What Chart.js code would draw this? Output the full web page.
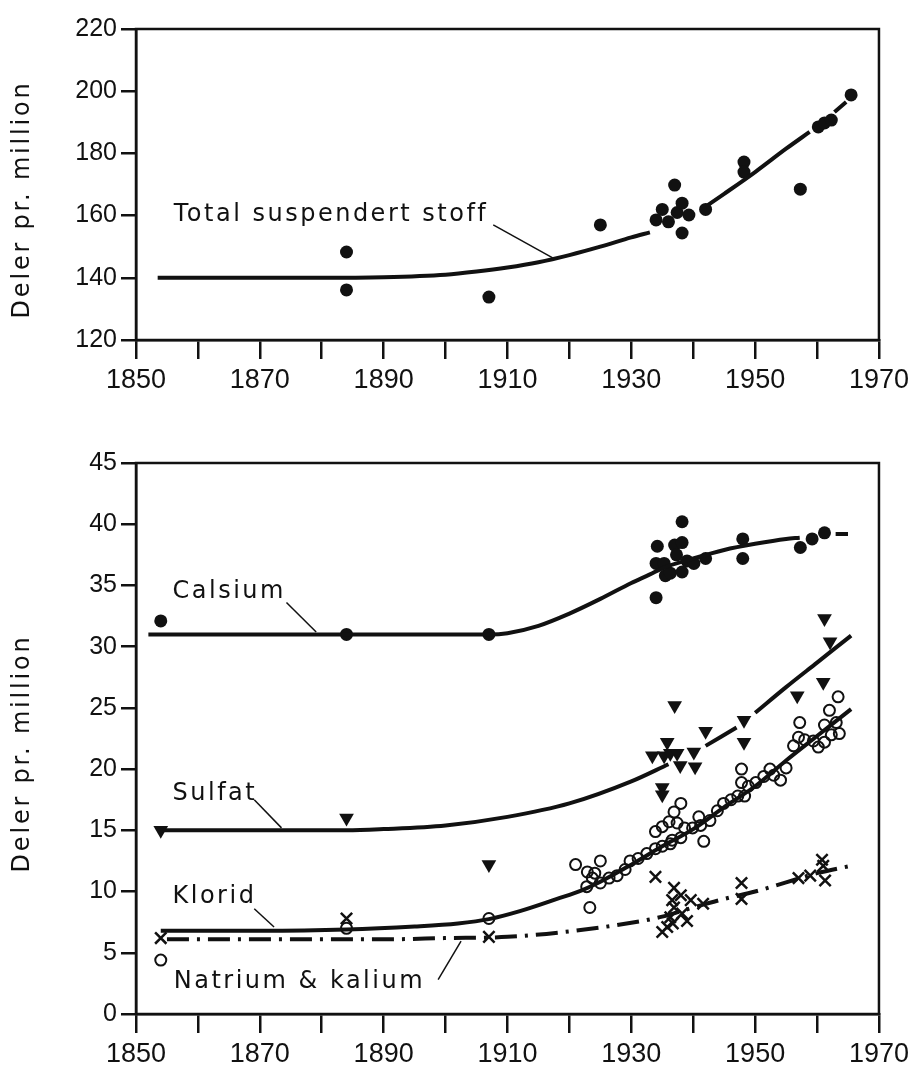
<!DOCTYPE html>
<html>
<head>
<meta charset="utf-8">
<script src="https://cdn.jsdelivr.net/npm/chart.js@4.4.1/dist/chart.umd.min.js"></script>
<style>
  html, body { margin: 0; padding: 0; background: #fff; }
  #wrap { position: relative; width: 914px; height: 1067px; }
  canvas { position: absolute; left: 0; }
  #topChart { top: 0; }
  #bottomChart { top: 400px; }
</style>
</head>
<body>
<div id="wrap">
  <canvas id="topChart" width="914" height="400"></canvas>
  <canvas id="bottomChart" width="914" height="667"></canvas>
</div>
<script>
// ---- data ----
const xTickLabels = [1850, 1870, 1890, 1910, 1930, 1950, 1970];
const topYTicks = [120, 140, 160, 180, 200, 220];
const bottomYTicks = [0, 5, 10, 15, 20, 25, 30, 35, 40, 45];

// Total suspendert stoff
const tssYears  = [1884, 1884, 1907, 1925, 1934, 1935, 1936, 1937, 1937.4, 1938.2, 1938.2, 1939.3, 1942, 1948.2, 1948.2, 1957.3, 1960.2, 1961.2, 1962.3, 1965.5];
const tssValues = [148.3, 136.1, 133.8, 157, 158.6, 162, 158, 169.8, 161, 164, 154.4, 160.2, 162, 177.2, 174, 168.5, 188.5, 189.8, 190.7, 198.8];
const tssCurveYears  = [1853.5, 1860, 1870, 1880, 1890, 1900, 1905, 1910, 1915, 1920, 1925, 1930, 1933, 1937, 1942, 1945, 1950, 1955, 1958.8, 1960.5, 1962.8, 1964.7];
const tssCurveValues = [140, 140, 140, 140, 140.2, 141, 142, 143.3, 145, 147.3, 150, 153, 154.6, null, 162.9, 167, 174, 181.5, 186.9, null, 193.3, 196.5];

// Calsium
const calsiumYears  = [1854, 1884, 1907, 1934, 1934.2, 1934, 1935.3, 1935.5, 1936.3, 1937, 1937.3, 1938.2, 1938.2, 1938.2, 1939, 1940.1, 1942, 1948, 1948, 1957.3, 1959.2, 1961.2];
const calsiumValues = [32.1, 31, 31, 34, 38.2, 36.8, 36.8, 35.8, 36, 38.3, 37.5, 38.5, 40.2, 36.1, 37, 36.8, 37.2, 38.8, 37.2, 38.1, 38.8, 39.3];
const calsiumCurveYears  = [1852, 1870, 1884, 1900, 1907, 1910, 1915, 1920, 1925, 1930, 1933, 1935, 1940, 1945, 1950, 1955, 1957.2, 1960, 1963, 1965];
const calsiumCurveValues = [31, 31, 31, 31, 31, 31.1, 31.7, 32.7, 33.9, 35.2, 35.9, 36.4, 37.2, 37.9, 38.4, 38.8, 38.9, null, 39.2, 39.2];

// Sulfat
const sulfatYears  = [1854, 1884, 1907, 1933.4, 1935, 1935, 1935.3, 1935.8, 1936.3, 1937, 1937.4, 1937.9, 1940.1, 1940.3, 1942, 1948.2, 1948.2, 1956.8, 1961, 1961.2, 1962.1];
const sulfatValues = [15, 16, 12.2, 21.1, 18.5, 17.9, 21.1, 22.2, 21.3, 25.2, 21.3, 20.3, 21.4, 20.2, 23.1, 24, 22.2, 26, 27.1, 32.3, 30.4];
const sulfatCurveYears  = [1854, 1870, 1884, 1890, 1900, 1910, 1920, 1930, 1936, 1939, 1942, 1947, 1948.5, 1950, 1955, 1960, 1965.5];
const sulfatCurveValues = [15, 15, 15, 15.1, 15.4, 16.1, 17.2, 19, 20.4, null, 21.9, 23.4, null, 24.6, 26.7, 28.7, 30.9];

// Klorid
const kloridYears  = [1854, 1884, 1907, 1921, 1922.9, 1925, 1924.1, 1923.7, 1922.8, 1923.3, 1925, 1926.4, 1927.7, 1929, 1929.8, 1931.1, 1932.5, 1933.9, 1935, 1936.3,
                      1933.9, 1935, 1936.1, 1936.9, 1938, 1937.4, 1938, 1936.6, 1938.6, 1939.9, 1940.9, 1941.2, 1941.7, 1942.7, 1943.9, 1944.9, 1946.1, 1947.2, 1947.8, 1947.8,
                      1948.3, 1948.9, 1950.1, 1951.4, 1952.4, 1953, 1954.1, 1955, 1956.2, 1957, 1957.2, 1958, 1959.4, 1960.2, 1961.2, 1961.2, 1962, 1962.3, 1963.1, 1963.4, 1963.6];
const kloridValues = [4.4, 7, 7.8, 12.2, 11.6, 12.5, 11.5, 11.1, 10.4, 8.7, 10.7, 11.1, 11.3, 11.8, 12.5, 12.7, 13.1, 13.5, 13.7, 13.9,
                      14.9, 15.3, 15.7, 16.5, 17.2, 15.6, 14.4, 14.2, 15.2, 15.2, 16.1, 15.4, 14.1, 15.8, 16.6, 17.2, 17.5, 17.8, 18.9, 20,
                      17.8, 18.6, 18.9, 19.4, 20, 19.5, 19.1, 20.1, 21.9, 22.6, 23.8, 22.4, 22.3, 21.8, 22.2, 23.6, 24.8, 22.8, 23.8, 25.9, 22.9];
const kloridCurveYears  = [1854, 1870, 1884, 1895, 1902, 1907, 1912, 1918, 1922, 1925, 1930, 1935, 1940, 1945, 1950, 1955, 1960, 1965.5];
const kloridCurveValues = [6.8, 6.8, 6.9, 7.15, 7.4, 7.75, 8.4, 9.4, 10.1, 10.8, 12.2, 13.7, 15.1, 16.9, 18.6, 20.7, 22.7, 24.9];

// Natrium & kalium
const natriumYears  = [1854, 1884, 1907, 1933.9, 1935, 1935.8, 1936.3, 1936.6, 1936.7, 1936.9, 1936.9, 1938, 1938.2, 1939, 1939.6, 1941.6, 1947.8, 1947.8, 1957, 1958.9, 1960.8, 1961, 1961.3];
const natriumValues = [6.2, 7.8, 6.3, 11.2, 6.7, 7.1, 7.9, 9.3, 7.4, 10.3, 8.7, 9.7, 8.2, 7.6, 9.3, 9.0, 10.7, 9.4, 11.1, 11.3, 12.6, 12.1, 10.9];
const natriumCurveYears  = [1855, 1870, 1890, 1900, 1910, 1920, 1930, 1935, 1940, 1945, 1950, 1955, 1960, 1965.5];
const natriumCurveValues = [6.1, 6.1, 6.1, 6.2, 6.3, 6.75, 7.45, 7.95, 8.7, 9.4, 10.0, 10.75, 11.5, 12.1];

// ---- helpers ----
const ink = '#111';
const pts = (xs, ys) => xs.map((x, i) => ({ x: x, y: ys[i] }));

const curve = (xs, ys, extra) => Object.assign({
  data: pts(xs, ys), showLine: true, pointRadius: 0, borderColor: ink,
  borderWidth: 4, cubicInterpolationMode: 'monotone', spanGaps: false
}, extra || {});

const marks = (xs, ys, extra) => Object.assign({
  data: pts(xs, ys), showLine: false, pointRadius: 6.5,
  pointBackgroundColor: ink, pointBorderColor: ink, pointBorderWidth: 0
}, extra || {});

// frame, notes with leader lines, rotated axis title
const framePlugin = {
  id: 'frame',
  afterDraw(chart, args, opts) {
    const { ctx, chartArea: a, scales } = chart;
    const px = v => scales.x.getPixelForValue(v);
    const py = v => scales.y.getPixelForValue(v);
    ctx.save();
    ctx.strokeStyle = ink;
    ctx.fillStyle = ink;
    ctx.lineWidth = 2.5;
    ctx.strokeRect(a.left, a.top, a.right - a.left, a.bottom - a.top);

    ctx.font = '24px "DejaVu Sans"';
    ctx.letterSpacing = '2.5px';
    ctx.textBaseline = 'middle';
    ctx.textAlign = 'left';
    ctx.lineWidth = 1.5;
    (opts.notes || []).forEach(n => {
      ctx.fillText(n.text, px(n.at[0]), py(n.at[1]));
      ctx.beginPath();
      ctx.moveTo(px(n.from[0]), py(n.from[1]));
      ctx.lineTo(px(n.to[0]), py(n.to[1]));
      ctx.stroke();
    });

    ctx.letterSpacing = '2.8px';
    ctx.translate(23, (a.top + a.bottom) / 2 + 15);
    ctx.rotate(-Math.PI / 2);
    ctx.textAlign = 'center';
    ctx.fillText(opts.title, 0, 0);
    ctx.restore();
  }
};

const xScale = height => ({
  type: 'linear', min: 1850, max: 1970,
  ticks: {
    stepSize: 10, autoSkip: false, maxRotation: 0, color: ink, padding: 5,
    font: { family: '"Liberation Sans Narrow", "Liberation Sans", sans-serif', size: 27 },
    callback: v => xTickLabels.includes(v) ? String(v) : ''
  },
  grid: { drawOnChartArea: false, tickLength: 19, color: ink, lineWidth: 2.5 },
  border: { color: ink, width: 2.5 },
  afterFit: s => { s.height = height; }
});

const yScale = (ticks) => ({
  min: ticks[0], max: ticks[ticks.length - 1],
  ticks: {
    stepSize: ticks[1] - ticks[0], color: ink, padding: 4,
    font: { family: '"Liberation Sans", sans-serif', size: 25 }
  },
  grid: { drawOnChartArea: false, tickLength: 15, color: ink, lineWidth: 2.5 },
  border: { color: ink, width: 2.5 },
  afterFit: s => { s.width = 136; }
});

const baseOptions = (padTop, xHeight, yTicks, frame) => ({
  responsive: false, animation: false, events: [],
  layout: { padding: { left: 0, right: 31, top: padTop, bottom: 0 } },
  plugins: { legend: { display: false }, tooltip: { enabled: false }, frame: frame },
  scales: { x: xScale(xHeight), y: yScale(yTicks) }
});

// ---- top chart ----
new Chart(document.getElementById('topChart'), {
  type: 'scatter',
  data: {
    datasets: [
      curve(tssCurveYears, tssCurveValues),
      marks(tssYears, tssValues)
    ]
  },
  options: baseOptions(29, 60, topYTicks, {
    title: 'Deler pr. million',
    notes: [
      { text: 'Total suspendert stoff', at: [1856.1, 160.2], from: [1907.7, 157.0], to: [1917.3, 146.4] }
    ]
  }),
  plugins: [framePlugin]
});

// ---- bottom chart ----
new Chart(document.getElementById('bottomChart'), {
  type: 'scatter',
  data: {
    datasets: [
      curve(calsiumCurveYears, calsiumCurveValues),
      curve(sulfatCurveYears, sulfatCurveValues),
      curve(kloridCurveYears, kloridCurveValues),
      curve(natriumCurveYears, natriumCurveValues, { borderDash: [22, 8, 3, 8] }),
      marks(calsiumYears, calsiumValues),
      marks(sulfatYears, sulfatValues, { pointStyle: 'triangle', rotation: 180, pointRadius: 8.5 }),
      marks(kloridYears, kloridValues, { pointRadius: 5.5, pointBackgroundColor: 'rgba(0,0,0,0)', pointBorderWidth: 2 }),
      marks(natriumYears, natriumValues, { pointStyle: 'crossRot', pointRadius: 8, pointBorderWidth: 2.5 })
    ]
  },
  options: baseOptions(63, 53, bottomYTicks, {
    title: 'Deler pr. million',
    notes: [
      { text: 'Calsium', at: [1855.9, 34.5], from: [1874.3, 33.6], to: [1879.1, 31.2] },
      { text: 'Sulfat', at: [1855.9, 18.0], from: [1869.1, 17.5], to: [1873.5, 15.2] },
      { text: 'Klorid', at: [1855.9, 9.55], from: [1869.1, 8.6], to: [1872.3, 7.1] },
      { text: 'Natrium & kalium', at: [1856.1, 2.6], from: [1898.8, 2.8], to: [1902.5, 5.95] }
    ]
  }),
  plugins: [framePlugin]
});
</script>
</body>
</html>
